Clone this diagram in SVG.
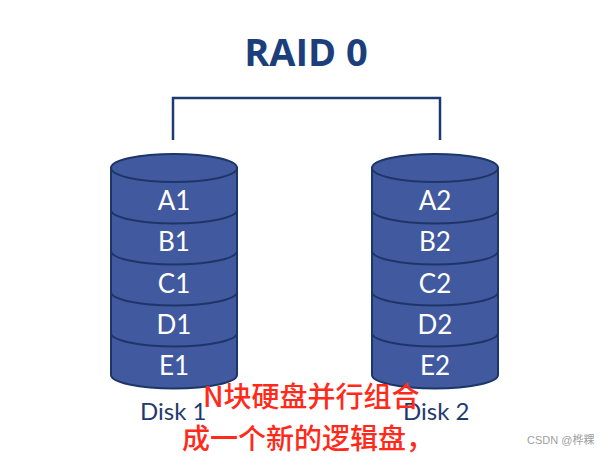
<svg xmlns="http://www.w3.org/2000/svg" width="609" height="457" viewBox="0 0 609 457">
<style>
.cyl{fill:#41599f;stroke:#1d3668;stroke-width:2}
.div{fill:none;stroke:#1d3668;stroke-width:2}
.lbl{font-family:Lato,"Open Sans",sans-serif;font-size:26px;fill:#ffffff;text-anchor:middle}
.disk{font-family:Lato,"Open Sans",sans-serif;font-size:24px;fill:#1f3a6e}
.conn{fill:none;stroke:#1d3a72;stroke-width:2.5}
.red{font-family:"Noto Sans CJK SC","Noto Sans",sans-serif;font-size:28px;font-weight:500;fill:#ff2a1a}
</style>
<rect width="609" height="457" fill="#ffffff"/>
<g id="title">
<text x="306" y="66" font-family="'Open Sans',sans-serif" font-weight="bold" font-size="38" fill="#1c3f7c" text-anchor="middle">RAID 0</text>
</g>
<g id="connectors">
<path class="conn" d="M173,140 V98 H440 V140"/>
</g>
<g id="disk1">
<path class="cyl" d="M111,168 V375 A63,13.5 0 0 0 237,375 V168 Z"/>
<ellipse class="cyl" cx="174" cy="168" rx="63" ry="14"/>
<path class="div" d="M111,210 A63,13.5 0 0 0 237,210"/>
<path class="div" d="M111,251 A63,13.5 0 0 0 237,251"/>
<path class="div" d="M111,292 A63,13.5 0 0 0 237,292"/>
<path class="div" d="M111,333 A63,13.5 0 0 0 237,333"/>
<text class="lbl" x="174" y="210">A1</text>
<text class="lbl" x="174" y="251">B1</text>
<text class="lbl" x="174" y="293">C1</text>
<text class="lbl" x="174" y="334">D1</text>
<text class="lbl" x="174" y="375">E1</text>
<text class="disk" x="140" y="420">Disk 1</text>
</g>
<g id="disk2">
<path class="cyl" d="M372,168 V375 A63,13.5 0 0 0 498,375 V168 Z"/>
<ellipse class="cyl" cx="435" cy="168" rx="63" ry="14"/>
<path class="div" d="M372,210 A63,13.5 0 0 0 498,210"/>
<path class="div" d="M372,251 A63,13.5 0 0 0 498,251"/>
<path class="div" d="M372,292 A63,13.5 0 0 0 498,292"/>
<path class="div" d="M372,333 A63,13.5 0 0 0 498,333"/>
<text class="lbl" x="435" y="210">A2</text>
<text class="lbl" x="435" y="251">B2</text>
<text class="lbl" x="435" y="293">C2</text>
<text class="lbl" x="435" y="334">D2</text>
<text class="lbl" x="435" y="375">E2</text>
<text class="disk" x="403" y="420">Disk 2</text>
</g>
<g id="annotation">
<text class="red" x="203" y="407">N块硬盘并行组合</text>
<text class="red" x="182" y="449">成一个新的逻辑盘，</text>
</g>
<text x="527" y="444" font-family="'Liberation Sans','Noto Sans CJK SC',sans-serif" font-size="11" fill="#a0a0a0">CSDN @桦粿</text>
</svg>
